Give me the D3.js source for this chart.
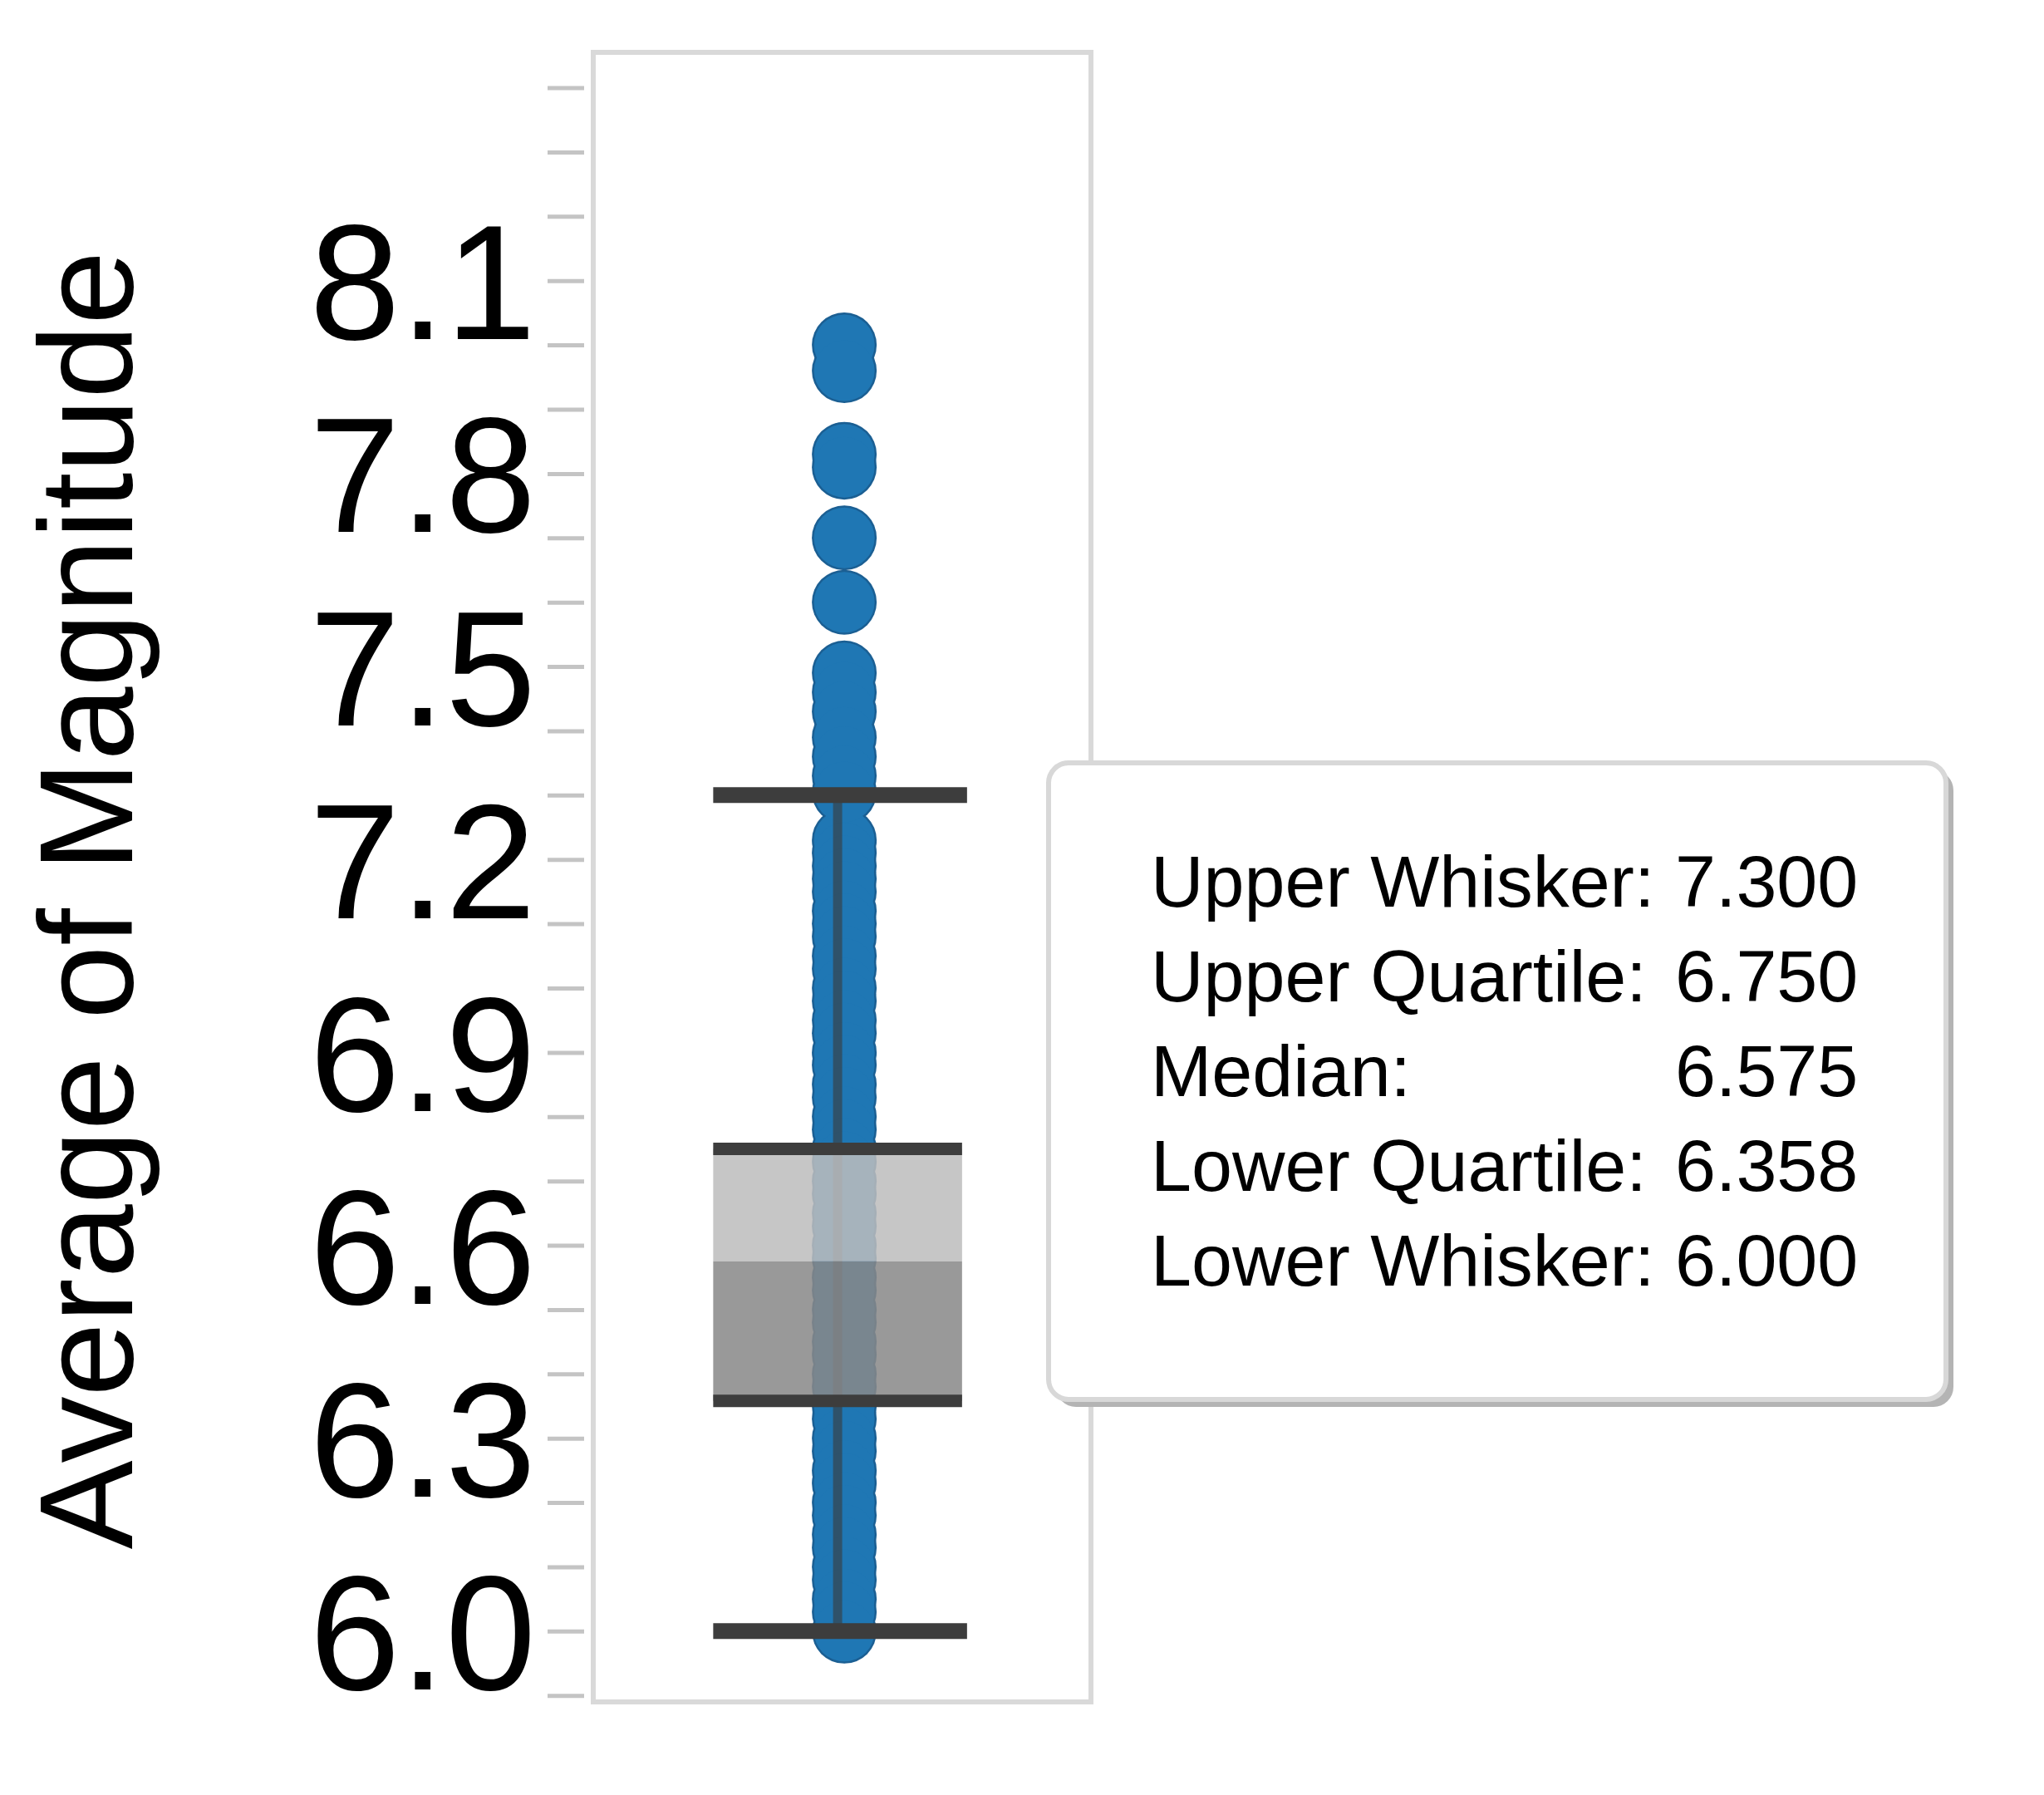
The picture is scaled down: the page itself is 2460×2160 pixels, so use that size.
<!DOCTYPE html>
<html>
<head>
<meta charset="utf-8">
<script src="https://cdn.jsdelivr.net/npm/d3@7/dist/d3.min.js"></script>
<style>
  body { margin: 0; background: #fff; }
  text { font-family: "Liberation Sans", Arial, sans-serif; fill: #000; }
</style>
</head>
<body>
<svg class="target"></svg>
<script>
// values
var categories = ["Magnitude"];
var statNames = ["Upper Whisker:", "Upper Quartile:", "Median:", "Lower Quartile:", "Lower Whisker:"];
var statValues = [7.300, 6.750, 6.575, 6.358, 6.000];
var outliers = [8.00, 7.96, 7.83, 7.81, 7.70, 7.60, 7.49, 7.46, 7.43, 7.39, 7.36, 7.33, 7.305];
var points = [7.23, 7.21, 7.19, 7.17, 7.15, 7.12, 7.10, 7.08, 7.05, 7.03, 7.00, 6.98, 6.95, 6.93,
    6.90, 6.88, 6.85, 6.83, 6.80, 6.78, 6.75, 6.73, 6.70, 6.68, 6.65, 6.63, 6.60, 6.58, 6.55,
    6.53, 6.50, 6.48, 6.45, 6.43, 6.40, 6.38, 6.35, 6.33, 6.30, 6.28, 6.25, 6.23, 6.20, 6.18,
    6.15, 6.13, 6.10, 6.08, 6.05, 6.03, 6.00];
var tickLabels = ["6.0", "6.3", "6.6", "6.9", "7.2", "7.5", "7.8", "8.1"];

var view_w = 2460;
var view_h = 2160;
var plot = { left: 714, right: 1313, top: 63, bottom: 2048 };

const svg = d3.select(".target")
    .attr("width", view_w)
    .attr("height", view_h)
    .attr("viewBox", [0, 0, view_w, view_h]);

var y = d3.scaleLinear().domain([5.89, 8.455]).range([plot.bottom, plot.top]);
var x = d3.scaleBand().domain(categories).range([plot.left, plot.right])
    .paddingInner(1 / 3).paddingOuter(1 / 3).align(0.482);

var upperWhisker = statValues[0], q3 = statValues[1], median = statValues[2],
    q1 = statValues[3], lowerWhisker = statValues[4];

// frame
svg.append("rect")
    .attr("x", plot.left)
    .attr("y", plot.top)
    .attr("width", plot.right - plot.left)
    .attr("height", plot.bottom - plot.top)
    .style("fill", "none")
    .style("stroke", "#d9d9d9")
    .style("stroke-width", 6);

// y axis, a tick every 0.1, labels every 0.3
var yAxis = d3.axisLeft(y)
    .tickValues(y.ticks(25))
    .tickSize(44)
    .tickPadding(14)
    .tickFormat(function (d) {
        var s = d3.format(".1f")(d);
        return tickLabels.indexOf(s) >= 0 ? s : "";
    });

var gy = svg.append("g")
    .attr("transform", "translate(703,0)")
    .call(yAxis);
gy.select(".domain").remove();
gy.selectAll(".tick line").style("stroke", "#c4c4c4").style("stroke-width", 5);
gy.selectAll(".tick text")
    .attr("dy", "0.357em")
    .style("font-size", "196px")
    .style("fill", "#000");

svg.append("text")
    .attr("transform", "translate(159,1083) rotate(-90)")
    .attr("text-anchor", "middle")
    .style("font-size", "160px")
    .text("Average of Magnitude");

var cx = x(categories[0]) + x.bandwidth() / 2;
var dotX = cx + 8;
var allPoints = points.concat(outliers);

// dark rim layer, then the fill layer on top so only the outer edge shows
var draw_points = function (r, color) {
    svg.append("g")
        .selectAll("circle")
        .data(allPoints)
        .join("circle")
        .attr("cx", dotX)
        .attr("cy", function (d) { return y(d); })
        .attr("r", r)
        .style("fill", color);
}
draw_points(39, "#1b5f93");
draw_points(36.5, "#1f77b4");

// whisker stem
svg.append("line")
    .attr("x1", cx).attr("x2", cx)
    .attr("y1", y(lowerWhisker)).attr("y2", y(upperWhisker))
    .style("stroke", "#3a3a3a")
    .style("stroke-width", 11)
    .style("opacity", 0.6);

// box halves
svg.append("rect")
    .attr("x", x(categories[0]))
    .attr("width", x.bandwidth())
    .attr("y", y(q3))
    .attr("height", y(median) - y(q3))
    .style("fill", "#bdbdbd")
    .style("opacity", 0.86);

svg.append("rect")
    .attr("x", x(categories[0]))
    .attr("width", x.bandwidth())
    .attr("y", y(median))
    .attr("height", y(q1) - y(median))
    .style("fill", "#888888")
    .style("opacity", 0.86);

var draw_hline = function (v, x0, x1, w) {
    svg.append("line")
        .attr("x1", x0).attr("x2", x1)
        .attr("y1", y(v)).attr("y2", y(v))
        .style("stroke", "#3d3d3d")
        .style("stroke-width", w);
}

draw_hline(q3, x(categories[0]), x(categories[0]) + x.bandwidth(), 15);
draw_hline(q1, x(categories[0]), x(categories[0]) + x.bandwidth(), 15);
draw_hline(upperWhisker, x(categories[0]), x(categories[0]) + x.bandwidth() + 6, 19);
draw_hline(lowerWhisker, x(categories[0]), x(categories[0]) + x.bandwidth() + 6, 19);

// tooltip
var tip = svg.append("g").attr("transform", "translate(1262,918)");
tip.append("rect")
    .attr("x", 9).attr("y", 9)
    .attr("width", 1080).attr("height", 766)
    .attr("rx", 24)
    .style("fill", "#b4b4b4");
tip.append("rect")
    .attr("width", 1080).attr("height", 766)
    .attr("rx", 24)
    .style("fill", "#fff")
    .style("stroke", "#d8d8d8")
    .style("stroke-width", 6);

var rowY = d3.scalePoint().domain(statNames).range([173, 629]);

tip.selectAll("text.name")
    .data(statNames)
    .join("text")
    .attr("class", "name")
    .attr("x", 123)
    .attr("y", function (d) { return rowY(d); })
    .style("font-size", "88px")
    .text(function (d) { return d; });

tip.selectAll("text.val")
    .data(statValues)
    .join("text")
    .attr("class", "val")
    .attr("x", 754)
    .attr("y", function (d, i) { return rowY(statNames[i]); })
    .style("font-size", "88px")
    .text(function (d) { return d.toFixed(3); });
</script>
</body>
</html>
